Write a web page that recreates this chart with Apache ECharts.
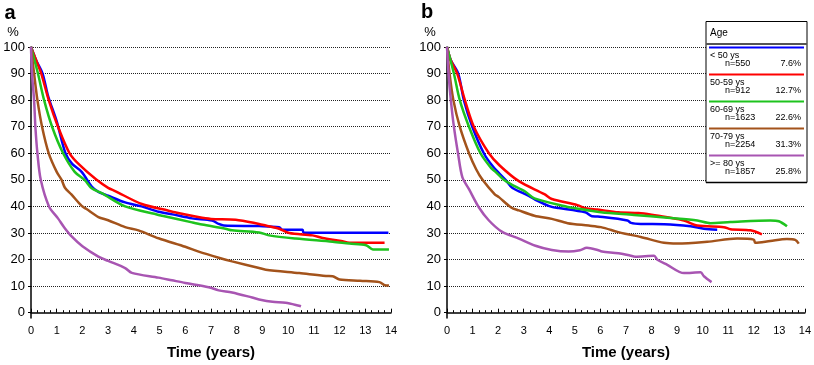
<!DOCTYPE html>
<html>
<head>
<meta charset="utf-8">
<script src="https://cdn.jsdelivr.net/npm/echarts@6/dist/echarts.min.js"></script>
<style>
  html, body { margin: 0; padding: 0; background: #fff; }
  #chart { width: 814px; height: 365px; }
</style>
</head>
<body>
<div id="chart"></div>
<script>
  // legend content
  const ageGroups = ['< 50 ys', '50-59 ys', '60-69 ys', '70-79 ys', '>= 80 ys'];
  const groupN = ['n=550', 'n=912', 'n=1623', 'n=2254', 'n=1857'];
  const groupShare = ['7.6%', '12.7%', '22.6%', '31.3%', '25.8%'];
  const groupColors = ['#0000ff', '#ff0000', '#1ec31e', '#a3531b', '#a855b2'];

  const yTicks = [0, 10, 20, 30, 40, 50, 60, 70, 80, 90, 100];

  // panel a  [years, %]
  const aLt50 = [[0,100],[0.2,95],[0.45,90],[0.65,82],[0.75,79],[1.0,72],[1.34,60],[1.6,56],[1.97,53],[2.36,47.5],[2.62,45.5],[3.0,44],[3.66,41.5],[4.3,40],[4.96,38],[5.5,37],[6.26,35.5],[7.04,34.7],[7.3,33.4],[7.5,32.8],[8.87,32.6],[9.65,32.2],[9.78,31.2],[10.56,31.2],[10.6,30.1],[13.9,30.1]];
  const a5059 = [[0,100],[0.2,95],[0.4,90],[0.69,80],[1.05,70],[1.5,60],[1.9,55.5],[2.55,50],[3.0,47],[3.27,45.8],[4.31,40.9],[5.35,38.4],[5.6,37.8],[6.5,36],[7.0,35.3],[7.96,35],[8.87,33.4],[9.13,32.8],[9.65,31.6],[10.04,30],[10.95,29.1],[11.34,28.1],[12.06,27],[12.38,26.3],[13.75,26.3]];
  const a6069 = [[0,100],[0.27,90],[0.51,80],[0.82,70],[1.25,60],[1.7,53],[2.1,49.8],[2.36,46.8],[2.75,45],[3.66,40],[4.96,36.8],[5.1,36.5],[6.26,34],[6.65,33.2],[7.56,31.6],[7.82,31],[8.87,30.2],[9.26,29.1],[10.3,27.9],[11.73,26.7],[12.38,26],[13.03,25.4],[13.3,23.8],[13.92,23.8]];
  const a7079 = [[0,100],[0.12,90],[0.25,80],[0.43,70],[0.69,60],[1.0,53],[1.19,50],[1.32,47],[1.57,44.5],[1.97,40.2],[2.16,39],[2.62,36],[3.0,34.8],[3.66,32.2],[4.18,31],[4.96,28],[6.0,24.8],[6.52,23],[7.3,20.7],[7.82,19.3],[8.87,16.8],[9.13,16.2],[10.43,14.9],[11.47,13.8],[11.73,13.7],[12.0,12.5],[12.8,12],[13.55,11.5],[13.75,10.4],[13.92,10.2]];
  const aGe80 = [[0,100],[0.04,90],[0.12,80],[0.17,70],[0.25,60],[0.38,50],[0.7,40],[1.05,35.5],[1.3,32],[1.6,28.5],[2.0,25],[2.62,21.1],[3.0,19.5],[3.66,16.8],[3.92,15],[4.96,13.2],[5.48,12.2],[6.0,11.2],[6.91,9.6],[7.3,8.4],[7.82,7.6],[8.6,5.7],[8.87,5],[9.39,4.1],[9.9,3.7],[10.43,2.6],[10.5,2.4]];

  // panel b  [years, %]
  const bLt50 = [[0,100],[0.15,95],[0.44,90],[0.66,80],[0.99,70],[1.44,60],[1.8,55],[2.29,50],[2.55,47],[3.2,44],[3.46,42.5],[4.1,39.8],[4.37,39.4],[5.41,37.8],[5.67,36.3],[5.9,36.2],[7.06,34.7],[7.2,33.8],[7.58,33.4],[8.5,33.3],[9.53,32.5],[10.05,31.6],[10.57,31.2]];
  const b5059 = [[0,100],[0.15,95],[0.4,90],[0.7,80],[1.05,70],[1.64,60],[2.05,55.5],[2.81,49.5],[3.81,44.6],[4.1,42.8],[5.1,40.5],[5.41,39.3],[5.89,38.8],[6.71,37.8],[7.49,37.5],[8.0,36.9],[8.62,35.9],[9.27,34.7],[9.79,32.8],[10.83,32.2],[11.09,31.4],[11.87,31],[12.32,29.5]];
  const b6069 = [[0,100],[0.27,90],[0.5,80],[0.86,70],[1.31,60],[1.73,54.4],[1.9,53],[2.22,50],[2.51,48.3],[3.07,45.5],[3.42,43],[4.72,39.8],[4.89,39.5],[6.02,37.8],[7.32,36.8],[8.62,35.7],[9.79,34.7],[10.31,33.7],[11.09,34.1],[12.65,34.7],[12.98,34.4],[13.3,32.5]];
  const b7079 = [[0,100],[0.1,90],[0.25,80],[0.5,70],[0.86,60],[1.14,54],[1.39,50],[1.86,44.6],[2.03,43.5],[2.51,39.6],[2.81,38.5],[3.42,36.5],[4.1,35.3],[4.72,33.7],[5.54,32.8],[6.02,32.2],[6.67,30.4],[6.97,29.7],[7.58,28.5],[8.49,26.3],[9.01,26],[10.18,26.7],[11.35,27.9],[12.0,27.5],[12.06,26.3],[12.65,27],[13.3,27.7],[13.62,27.4],[13.76,26]];
  const bGe80 = [[0,100],[0.06,90],[0.15,80],[0.27,70],[0.43,60],[0.6,51],[0.86,46.5],[1.25,39.6],[1.64,34.7],[2.16,30.4],[2.81,27.9],[3.46,25.2],[4.1,23.6],[4.76,23],[5.2,23.5],[5.47,24.4],[5.89,23.6],[6.06,23],[6.71,22.4],[7.19,21.4],[7.36,21.1],[8.1,21.4],[8.23,19.9],[8.62,18],[9.27,14.9],[9.92,15.2],[10.05,13.7],[10.35,11.5]];

  const panelA = [aLt50, a5059, a6069, a7079, aGe80];
  const panelB = [bLt50, b5059, b6069, b7079, bGe80];

  const font = 'Liberation Sans, Arial, sans-serif';

  function xAxisOf(gridIndex) {
    return {
      gridIndex: gridIndex,
      type: 'value',
      min: 0,
      max: 14,
      interval: 1,
      axisLine: { lineStyle: { color: '#000', width: 1.5 } },
      axisTick: { inside: true, length: 4, lineStyle: { color: '#000' } },
      minorTick: { show: true, splitNumber: 4, length: 2.5, lineStyle: { color: '#000' } },
      axisLabel: { color: '#000', fontSize: 11, margin: 7, fontFamily: font },
      splitLine: { show: false },
      name: 'Time (years)',
      nameLocation: 'middle',
      nameGap: 27,
      nameTextStyle: { color: '#000', fontSize: 15, fontWeight: 'bold', fontFamily: font }
    };
  }

  function yAxisOf(gridIndex) {
    return {
      gridIndex: gridIndex,
      type: 'value',
      min: -2,
      max: 100,
      axisLine: { show: true, lineStyle: { color: '#000', width: 1.5 } },
      axisTick: { show: true, customValues: yTicks, length: 3, lineStyle: { color: '#000' } },
      axisLabel: { customValues: yTicks, color: '#000', fontSize: 13, margin: 6, fontFamily: font },
      splitLine: { show: true, showMinLine: false, lineStyle: { type: 'dotted', color: '#222', width: 1 } }
    };
  }

  function seriesOf(panel, axisIndex) {
    return panel.map(function (data, i) {
      return {
        name: ageGroups[i],
        type: 'line',
        xAxisIndex: axisIndex,
        yAxisIndex: axisIndex,
        data: data,
        showSymbol: false,
        smooth: 0.3,
        lineStyle: { color: groupColors[i], width: 2.5 },
        itemStyle: { color: groupColors[i] },
        z: 2 + i
      };
    });
  }

  // legend box drawn in panel b
  const boxLeft = 706, boxRight = 807, boxTop = 21.5, rowTop = 47.5, rowH = 27;
  const legendEls = [
    { type: 'rect', shape: { x: boxLeft, y: boxTop, width: boxRight - boxLeft, height: rowTop + rowH * 5 - boxTop },
      style: { fill: '#fff', stroke: '#000', lineWidth: 1 }, z: 100 },
    { type: 'text', x: 710, y: 33, style: { text: 'Age', fontSize: 10, fontFamily: font, fill: '#000', verticalAlign: 'middle' }, z: 101 },
    { type: 'line', shape: { x1: boxLeft, y1: 44, x2: boxRight, y2: 44 }, style: { stroke: '#555', lineWidth: 2 }, z: 101 },
    { type: 'line', shape: { x1: boxLeft, y1: rowTop + rowH * 5, x2: boxRight, y2: rowTop + rowH * 5 }, style: { stroke: '#000', lineWidth: 1.5 }, z: 101 }
  ];
  ageGroups.forEach(function (g, i) {
    const y0 = rowTop + rowH * i;
    legendEls.push(
      { type: 'line', shape: { x1: 709, y1: y0, x2: 804, y2: y0 }, style: { stroke: groupColors[i], lineWidth: 2 }, z: 101 },
      { type: 'text', x: 710, y: y0 + 8, style: { text: g, fontSize: 9, fontFamily: font, fill: '#000', verticalAlign: 'middle' }, z: 101 },
      { type: 'text', x: 725, y: y0 + 16, style: { text: groupN[i], fontSize: 9, fontFamily: font, fill: '#000', verticalAlign: 'middle' }, z: 101 },
      { type: 'text', x: 801, y: y0 + 16, style: { text: groupShare[i], fontSize: 9, fontFamily: font, fill: '#000', align: 'right', verticalAlign: 'middle' }, z: 101 }
    );
  });

  const chart = echarts.init(document.getElementById('chart'));
  chart.setOption({
    animation: false,
    backgroundColor: '#fff',
    grid: [
      { left: 31, top: 47, width: 360, bottom: 43 },
      { left: 447, top: 47, width: 360, bottom: 43 }
    ],
    xAxis: [xAxisOf(0), xAxisOf(1)],
    yAxis: [yAxisOf(0), yAxisOf(1)],
    series: seriesOf(panelA, 0).concat(seriesOf(panelB, 1)),
    graphic: [
      { type: 'text', x: 10, y: 13, style: { text: 'a', fontSize: 20, fontWeight: 'bold', fontFamily: font, fill: '#000', align: 'center', verticalAlign: 'middle' } },
      { type: 'text', x: 427, y: 12, style: { text: 'b', fontSize: 20, fontWeight: 'bold', fontFamily: font, fill: '#000', align: 'center', verticalAlign: 'middle' } },
      { type: 'text', x: 13, y: 32, style: { text: '%', fontSize: 13, fontFamily: font, fill: '#000', align: 'center', verticalAlign: 'middle' } },
      { type: 'text', x: 430, y: 32, style: { text: '%', fontSize: 13, fontFamily: font, fill: '#000', align: 'center', verticalAlign: 'middle' } }
    ].concat(legendEls)
  });
</script>
</body>
</html>
